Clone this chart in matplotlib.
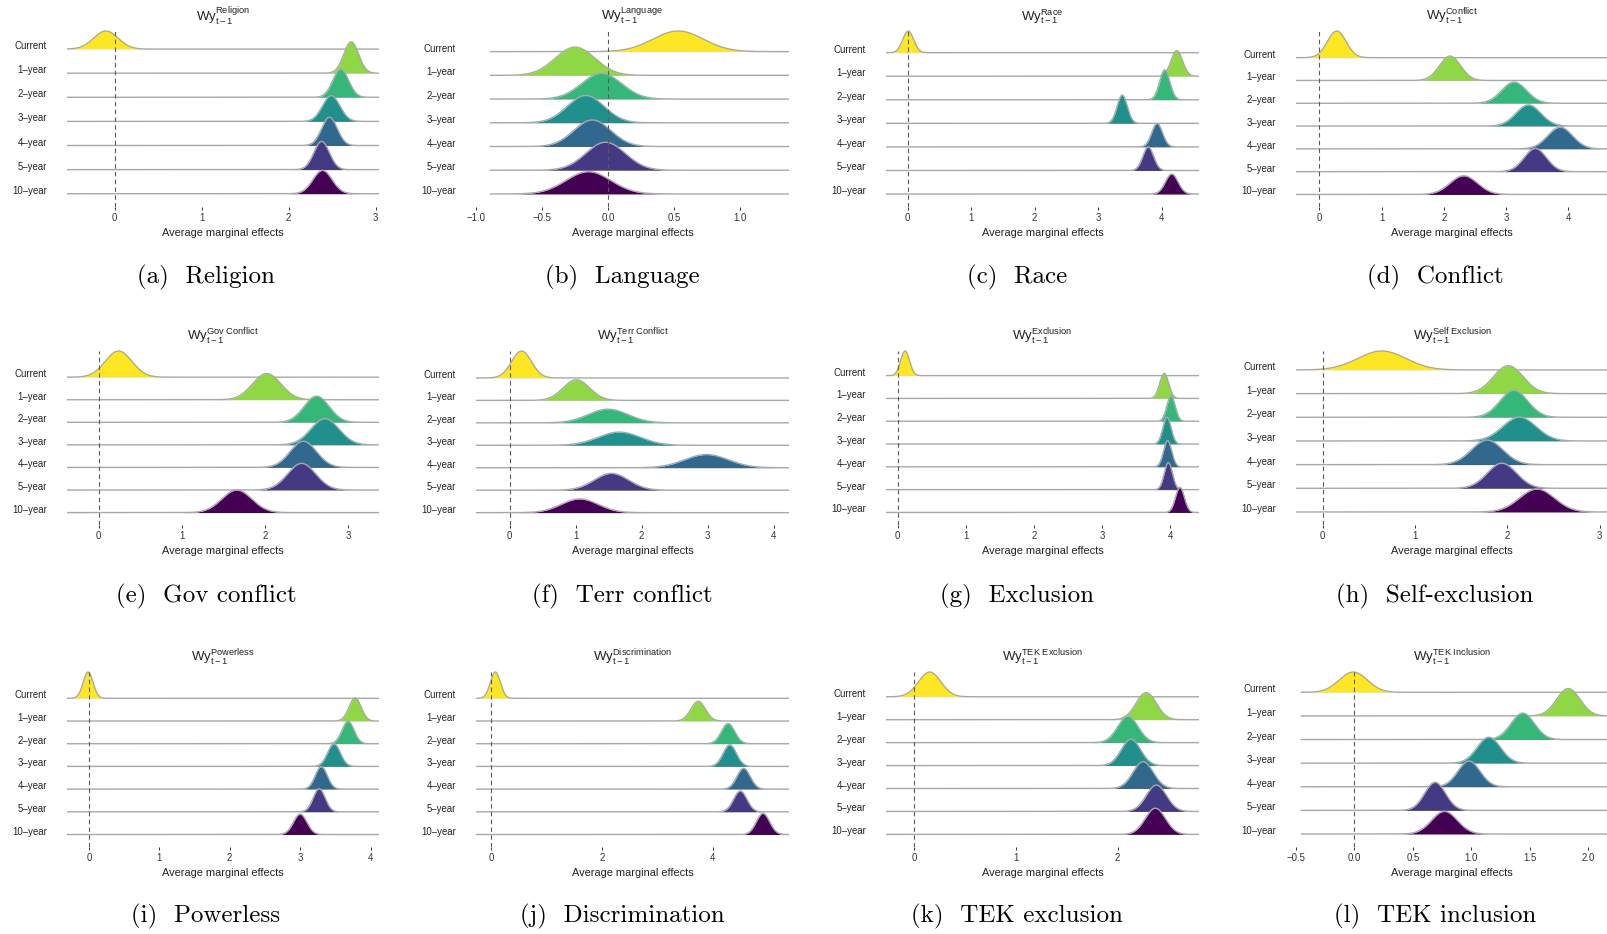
import numpy as np
import matplotlib
matplotlib.use("Agg")
import matplotlib.pyplot as plt
import matplotlib.transforms as mtransforms

plt.rcParams["font.family"] = ["Liberation Sans", "DejaVu Sans"]
plt.rcParams["mathtext.fontset"] = "custom"
plt.rcParams["mathtext.rm"] = "Liberation Sans"
plt.rcParams["mathtext.it"] = "Liberation Sans"
plt.rcParams["axes.unicode_minus"] = True

# ridge rows, top to bottom
ROWS = ["Current", "1\u2013year", "2\u2013year", "3\u2013year", "4\u2013year", "5\u2013year", "10\u2013year"]
COLORS = ["#FDE725", "#8FD744", "#35B779", "#21908C", "#31688E", "#443A83", "#440154"]
OUTLINE = "#a8a8a8"

# peak location, spread and relative peak height of every ridge
religion_mean = [-0.10, 2.72, 2.60, 2.49, 2.47, 2.38, 2.39]
religion_sd = [0.14, 0.085, 0.09, 0.10, 0.09, 0.09, 0.11]
religion_peak = [0.75, 1.30, 1.17, 1.07, 1.17, 1.17, 0.97]

language_mean = [0.53, -0.25, -0.05, -0.17, -0.12, -0.02, -0.15]
language_sd = [0.19, 0.15, 0.15, 0.14, 0.14, 0.15, 0.17]
language_peak = [0.87, 1.19, 1.09, 1.15, 1.12, 1.18, 0.94]

race_mean = [0.01, 4.24, 4.05, 3.38, 3.93, 3.79, 4.16]
race_sd = [0.085, 0.09, 0.08, 0.08, 0.085, 0.085, 0.10]
race_peak = [0.92, 1.09, 1.27, 1.20, 1.00, 1.00, 0.85]

conflict_mean = [0.28, 2.10, 3.13, 3.36, 3.87, 3.47, 2.32]
conflict_sd = [0.15, 0.17, 0.20, 0.20, 0.20, 0.18, 0.22]
conflict_peak = [1.17, 1.07, 0.93, 0.93, 0.95, 1.02, 0.82]

gov_mean = [0.24, 2.02, 2.62, 2.72, 2.46, 2.44, 1.66]
gov_sd = [0.16, 0.17, 0.15, 0.17, 0.16, 0.17, 0.18]
gov_peak = [1.16, 1.16, 1.16, 1.16, 1.16, 1.18, 1.00]

terr_mean = [0.18, 1.01, 1.49, 1.66, 2.98, 1.54, 1.06]
terr_sd = [0.15, 0.20, 0.30, 0.32, 0.33, 0.26, 0.28]
terr_peak = [1.20, 0.92, 0.61, 0.59, 0.59, 0.75, 0.61]

excl_mean = [0.11, 3.91, 4.01, 3.95, 3.96, 3.97, 4.14]
excl_sd = [0.065, 0.065, 0.06, 0.06, 0.06, 0.06, 0.065]
excl_peak = [1.08, 1.10, 1.12, 1.18, 1.15, 1.19, 1.10]

self_mean = [0.64, 2.01, 2.07, 2.13, 1.78, 1.94, 2.32]
self_sd = [0.26, 0.16, 0.15, 0.18, 0.17, 0.16, 0.19]
self_peak = [0.80, 1.18, 1.14, 1.01, 1.04, 1.06, 0.97]

power_mean = [-0.01, 3.78, 3.68, 3.48, 3.30, 3.27, 3.00]
power_sd = [0.07, 0.085, 0.085, 0.09, 0.085, 0.085, 0.095]
power_peak = [1.16, 1.02, 0.99, 1.00, 0.99, 1.02, 0.90]

discr_mean = [0.08, 3.74, 4.28, 4.31, 4.56, 4.50, 4.91]
discr_sd = [0.09, 0.13, 0.12, 0.12, 0.12, 0.12, 0.12]
discr_peak = [1.16, 0.87, 0.89, 0.95, 0.92, 0.92, 0.93]

tekex_mean = [0.15, 2.28, 2.10, 2.13, 2.25, 2.38, 2.37]
tekex_sd = [0.11, 0.10, 0.10, 0.095, 0.10, 0.10, 0.10]
tekex_peak = [1.08, 1.18, 1.15, 1.15, 1.17, 1.15, 1.14]

tekin_mean = [-0.01, 1.83, 1.44, 1.15, 0.98, 0.69, 0.77]
tekin_sd = [0.12, 0.10, 0.10, 0.10, 0.095, 0.09, 0.11]
tekin_peak = [0.86, 1.16, 1.12, 1.10, 1.09, 1.19, 0.96]

TITLES = ["Religion", "Language", "Race", "Conflict",
          "Gov Conflict", "Terr Conflict", "Exclusion", "Self Exclusion",
          "Powerless", "Discrimination", "TEK Exclusion", "TEK Inclusion"]
CAPTIONS = ["(a)  Religion", "(b)  Language", "(c)  Race", "(d)  Conflict",
            "(e)  Gov conflict", "(f)  Terr conflict", "(g)  Exclusion", "(h)  Self-exclusion",
            "(i)  Powerless", "(j)  Discrimination", "(k)  TEK exclusion", "(l)  TEK inclusion"]
XLIMS = [(-0.547, 3.04), (-0.896, 1.369), (-0.34, 4.59), (-0.375, 4.64),
         (-0.38, 3.37), (-0.51, 4.23), (-0.17, 4.42), (-0.29, 3.09),
         (-0.31, 4.12), (-0.27, 5.38), (-0.28, 2.80), (-0.46, 2.17)]
XTICKS = [[0, 1, 2, 3], [-1.0, -0.5, 0.0, 0.5, 1.0], [0, 1, 2, 3, 4], [0, 1, 2, 3, 4],
          [0, 1, 2, 3], [0, 1, 2, 3, 4], [0, 1, 2, 3, 4], [0, 1, 2, 3],
          [0, 1, 2, 3, 4], [0, 2, 4], [0, 1, 2], [-0.5, 0.0, 0.5, 1.0, 1.5, 2.0]]
DECIMALS = [0, 1, 0, 0, 0, 0, 0, 0, 0, 0, 0, 1]

PANELS = [
    (religion_mean, religion_sd, religion_peak),
    (language_mean, language_sd, language_peak),
    (race_mean, race_sd, race_peak),
    (conflict_mean, conflict_sd, conflict_peak),
    (gov_mean, gov_sd, gov_peak),
    (terr_mean, terr_sd, terr_peak),
    (excl_mean, excl_sd, excl_peak),
    (self_mean, self_sd, self_peak),
    (power_mean, power_sd, power_peak),
    (discr_mean, discr_sd, discr_peak),
    (tekex_mean, tekex_sd, tekex_peak),
    (tekin_mean, tekin_sd, tekin_peak),
]

W, H = 1608, 934
COL_L = [67, 476, 886, 1296]
COL_R = [379, 789, 1199, 1608]
ROW_T = [31, 351, 672]
ROW_B = [207, 525, 847]
CAP_X = [206, 622, 1017, 1435]
CAP_Y = [277, 596, 916]


def draw_panel(fig, ax, k):
    means, sds, peaks = PANELS[k]
    lo, hi = XLIMS[k]
    x = np.linspace(lo, hi, 900)
    n = len(ROWS)
    tops = []
    for i, (m, s, p) in enumerate(zip(means, sds, peaks)):
        base = n - 1 - i
        y = base + p * np.exp(-0.5 * ((x - m) / s) ** 2)
        tops.append(y.max())
        ax.fill_between(x, base, y, color=COLORS[i], lw=0, zorder=2 + i, clip_on=False)
        ax.plot(x, y, color=OUTLINE, lw=1.0, zorder=2.5 + i, clip_on=False,
                solid_capstyle="butt")
    ax.axvline(0, color="#5a5a5a", lw=0.8, ls=(0, (4, 3)), zorder=30)

    ax.set_xlim(lo, hi)
    ax.set_ylim(-0.55, max(tops))
    ax.set_yticks([])
    for sp in ax.spines.values():
        sp.set_visible(False)
    ticks = XTICKS[k]
    ax.set_xticks(ticks)
    fmt = "{:.%df}" % DECIMALS[k]
    ax.set_xticklabels([fmt.format(t).replace("-", "\u2212") for t in ticks])
    ax.tick_params(axis="x", length=2.5, width=0.7, color="#333333", pad=1.5,
                   labelsize=6.9, labelcolor="#333333")
    ax.set_xlabel("Average marginal effects", fontsize=7.9, color="#222222", labelpad=4)

    lab_tr = mtransforms.offset_copy(ax.get_yaxis_transform(), fig=fig, x=-20, y=0, units="dots")
    for i, lab in enumerate(ROWS):
        ax.text(0, n - 1 - i, lab, transform=lab_tr, ha="right", va="baseline",
                fontsize=6.9, color="#222222")

    tit_tr = mtransforms.offset_copy(ax.transAxes, fig=fig, x=0, y=10, units="dots")
    name = TITLES[k].replace(" ", r"\ ")
    ax.text(0.5, 1, r"$\mathrm{Wy}_{\mathrm{t-1}}^{\mathrm{" + name + "}}$",
            transform=tit_tr, ha="center", va="baseline", fontsize=9.5, color="#222222")


fig = plt.figure(figsize=(W / 100, H / 100), dpi=100)
for k in range(12):
    r, c = divmod(k, 4)
    l, rr = COL_L[c], COL_R[c]
    t, b = ROW_T[r], ROW_B[r]
    ax = fig.add_axes([l / W, 1 - b / H, (rr - l) / W, (b - t) / H])
    ax.patch.set_alpha(0)
    draw_panel(fig, ax, k)
    fig.text(CAP_X[c] / W, 1 - CAP_Y[r] / H, CAPTIONS[k], family="cmr10",
             fontsize=18, ha="center", va="center")

fig.savefig("out.png", dpi=100, facecolor="white")
